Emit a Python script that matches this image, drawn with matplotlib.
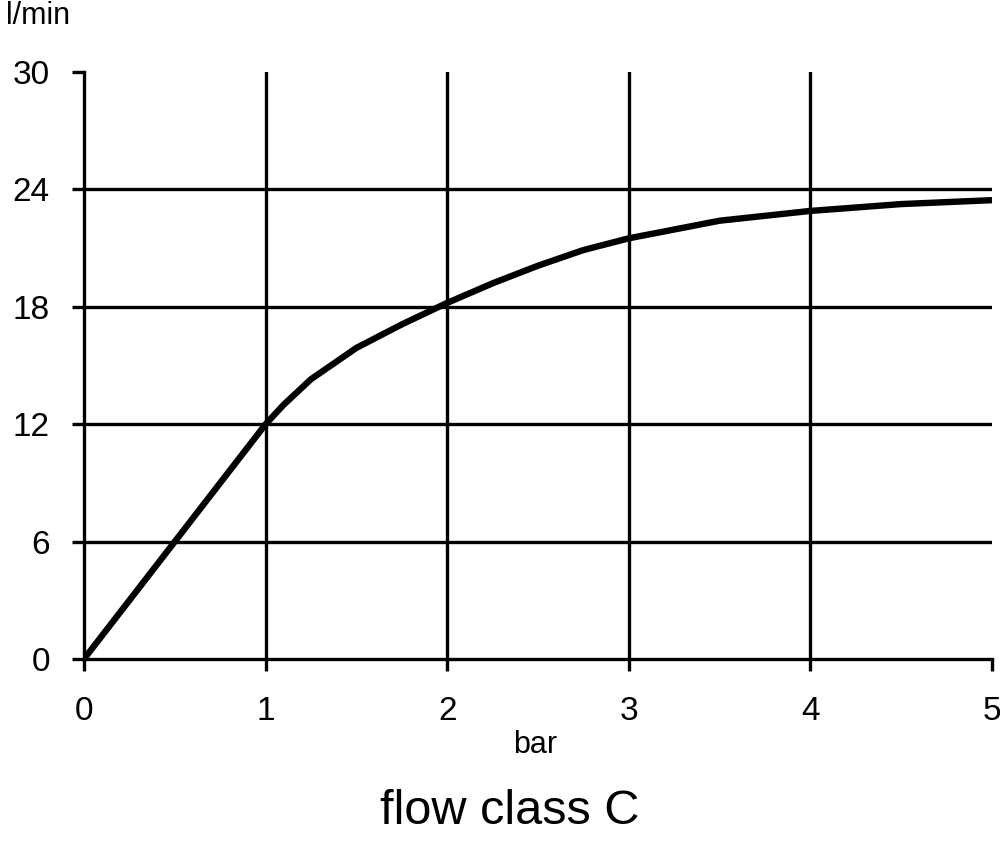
import matplotlib
matplotlib.use("Agg")
import matplotlib.pyplot as plt

# flow curve
pressure_bar = [0, 0.25, 0.5, 0.75, 1, 1.1, 1.25, 1.5, 1.75, 2, 2.25, 2.5, 2.75, 3, 3.5, 4, 4.5, 5]
flow_lmin = [0, 3, 6, 9, 12, 13.0, 14.3, 15.9, 17.1, 18.2, 19.2, 20.1, 20.9, 21.5, 22.4, 22.9, 23.25, 23.45]

x_ticks = [0, 1, 2, 3, 4, 5]
y_ticks = [0, 6, 12, 18, 24, 30]

plt.rcParams["font.family"] = ["Liberation Sans", "DejaVu Sans"]

fig = plt.figure(figsize=(10, 8.41), dpi=100)
ax = fig.add_axes([0.084, 1 - 659 / 841, 0.908, (659 - 72) / 841])

ax.set_xlim(0, 5)
ax.set_ylim(0, 30)

# inner grid lines only (edges are the axes)
for xv in x_ticks[1:-1]:
    ax.axvline(xv, color="black", lw=2.4, zorder=1)
for yv in y_ticks[1:-1]:
    ax.axhline(yv, color="black", lw=2.4, zorder=1)

ax.plot(pressure_bar, flow_lmin, color="black", lw=4.6, zorder=3,
        solid_joinstyle="round", solid_capstyle="butt")

for side in ["top", "right"]:
    ax.spines[side].set_visible(False)
for side in ["left", "bottom"]:
    ax.spines[side].set_linewidth(2.4)

ax.set_xticks(x_ticks)
ax.set_yticks(y_ticks)
ax.tick_params(axis="both", direction="out", length=8.6, width=2.4,
               labelsize=24)
ax.tick_params(axis="x", pad=18)
ax.tick_params(axis="y", pad=16)

fig.text(0.006, 1 - 16 / 841, "l/min", fontsize=22, va="center", ha="left")
fig.text(535 / 1000, 1 - 745 / 841, "bar", fontsize=22, va="center", ha="center")
fig.text(510 / 1000, 1 - 811 / 841, "flow class C", fontsize=35, va="center", ha="center")

fig.savefig("out.png", dpi=100)
